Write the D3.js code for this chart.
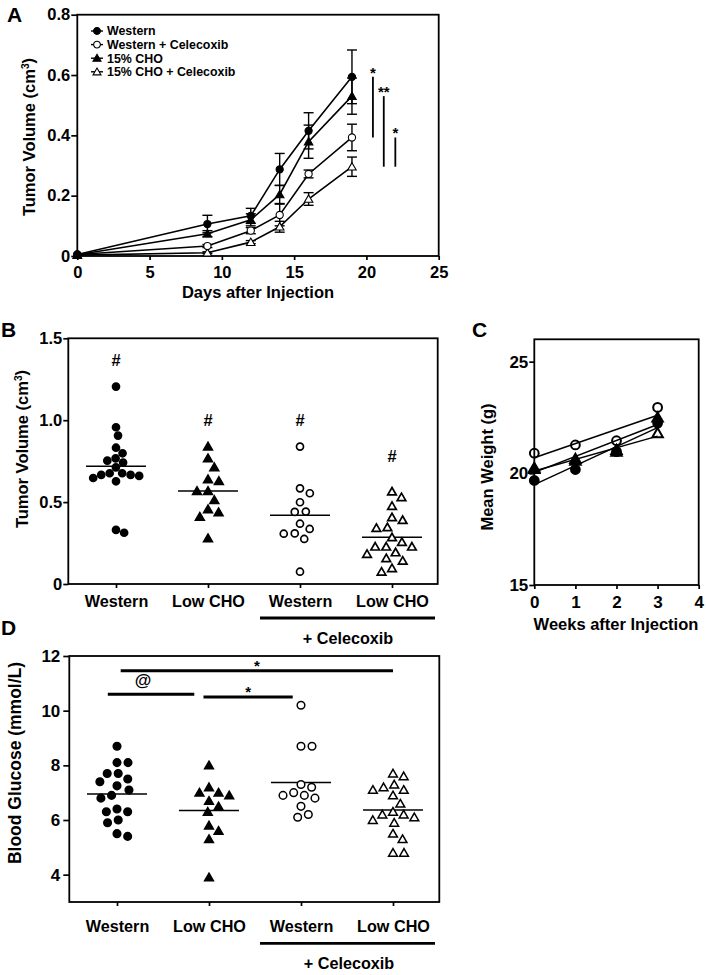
<!DOCTYPE html>
<html>
<head>
<meta charset="utf-8">
<script src="https://cdn.jsdelivr.net/npm/d3@7"></script>
<style>
  body { margin: 0; background: #fff; }
  svg text { font-family: "Liberation Sans", Arial, Helvetica, sans-serif; font-weight: bold; fill: #000; }
</style>
</head>
<body>
<svg id="fig"></svg>
<script>
// ---- Panel A: tumor growth curves ----
var days = [0, 9, 12, 14, 16, 19];
var seriesNamesA = ["Western", "Western + Celecoxib", "15% CHO", "15% CHO + Celecoxib"];
var westernA = [0.005, 0.106, 0.133, 0.287, 0.415, 0.594];
var westernErrA = [0, 0.029, 0.025, 0.053, 0.06, 0.089];
var westernCelA = [0.005, 0.033, 0.084, 0.136, 0.272, 0.393];
var westernCelErrA = [0, 0.005, 0.01, 0.036, 0.013, 0.044];
var choA = [0.004, 0.074, 0.12, 0.204, 0.379, 0.53];
var choErrA = [0, 0.01, 0.02, 0.03, 0.055, 0.06];
var choCelA = [0.003, 0.011, 0.046, 0.097, 0.189, 0.296];
var choCelErrA = [0, 0.003, 0.005, 0.018, 0.021, 0.032];
var sigA = [{day: 20.45, a: 0, b: 1, label: "*"}, {day: 21.2, a: 2, b: 3, label: "**"}, {day: 22.0, a: 1, b: 3, label: "*"}];

// ---- Panel B: final tumor volume ----
var groupLabels = ["Western", "Low CHO", "Western", "Low CHO"];
var tumorWestern = [1.205, 0.957, 0.906, 0.832, 0.798, 0.767, 0.753, 0.741, 0.712, 0.676, 0.676, 0.666, 0.666, 0.66, 0.647, 0.627, 0.33, 0.313];
var tumorLowCho = [0.839, 0.767, 0.712, 0.639, 0.629, 0.568, 0.568, 0.513, 0.456, 0.438, 0.411, 0.279];
var tumorWesternCel = [0.839, 0.584, 0.554, 0.499, 0.442, 0.44, 0.368, 0.336, 0.309, 0.307, 0.275, 0.075];
var tumorLowChoCel = [0.564, 0.53, 0.476, 0.407, 0.39, 0.346, 0.342, 0.285, 0.256, 0.228, 0.228, 0.228, 0.193, 0.183, 0.157, 0.142, 0.096, 0.075];
var tumorHash = [1.37, 1.0, 1.0, 0.78];

// ---- Panel C: body weight ----
var weeks = [0, 1, 2, 3];
var weightWestern = [19.68, 20.17, 20.97, 22.25];
var weightWesternCel = [20.9, 21.27, 21.46, 22.95];
var weightCho = [20.25, 20.65, 21.05, 22.5];
var weightChoCel = [20.2, 20.57, 20.97, 21.8];

// ---- Panel D: blood glucose ----
var glucoseWestern = [8.7, 8.1, 8.1, 7.7, 7.7, 7.5, 7.4, 7.25, 7.1, 6.9, 6.8, 6.4, 6.3, 6.3, 6.0, 5.9, 5.5, 5.4];
var glucoseLowCho = [8.0, 7.2, 7.0, 7.0, 6.9, 6.7, 6.5, 6.3, 5.8, 5.6, 5.3, 3.9];
var glucoseWesternCel = [10.2, 8.7, 8.7, 7.3, 7.2, 7.0, 6.9, 6.9, 6.8, 6.5, 6.2, 6.1];
var glucoseLowChoCel = [7.7, 7.6, 7.3, 7.2, 7.1, 7.1, 6.9, 6.6, 6.3, 6.2, 6.2, 6.1, 6.0, 5.9, 5.5, 5.3, 4.8, 4.8];
var sigD = [{from: 0.04, to: 3.0, y: 11.46, label: "*"}, {from: -0.1, to: 0.84, y: 10.6, label: "@"}, {from: 0.94, to: 1.91, y: 10.5, label: "*"}];

// marker style per series: Western, Western+Cel, CHO, CHO+Cel
var shapes = ["circle", "circle", "triangle", "triangle"];
var filled = [true, false, true, false];
// column order in B and D: Western, Low CHO, Western+Cel, Low CHO+Cel
var columnStyle = [0, 2, 1, 3];

var width = 706, height = 975;
var svg = d3.select('#fig').attr('width', width).attr('height', height);

function fmt(d) { return d === 0 ? "0" : d3.format(".1f")(d); }

function styleAxis(g, size) {
  g.attr('font-family', null).attr('font-size', size).attr('font-weight', 'bold');
  g.select('.domain').remove();
  g.selectAll('line').attr('stroke', '#000').attr('stroke-width', 1.7);
  g.selectAll('text').attr('fill', '#000');
}

var triangle = {
  draw: function(ctx, size) {
    var s = Math.sqrt(size), h = s * Math.sqrt(3) / 2;
    ctx.moveTo(0, -h * 0.55);
    ctx.lineTo(s / 2, h * 0.45);
    ctx.lineTo(-s / 2, h * 0.45);
    ctx.closePath();
  }
};

function symbolPath(shape, size) {
  if (shape === 'circle') return d3.symbol().type(d3.symbolCircle).size(Math.PI * size * size)();
  return d3.symbol().type(triangle).size(size * size)();
}

function box(g, x0, x1, y0, y1) {
  g.append('rect')
    .attr('x', x0).attr('y', y0)
    .attr('width', x1 - x0).attr('height', y1 - y0)
    .attr('fill', 'none').attr('stroke', '#000').attr('stroke-width', 1.8);
}

function supTitle(sel, main) {
  sel.append('tspan').text(main);
  sel.append('tspan').attr('font-size', '0.62em').attr('dy', '-0.55em').text('3');
  sel.append('tspan').attr('dy', '0.34em').text(')');
}

function panelLetter(txt, x, y) {
  svg.append('text').attr('x', x).attr('y', y).attr('font-size', 21).text(txt);
}

// simple beeswarm: spread points sideways so they don't overlap
function swarm(values, y, d) {
  var order = d3.range(values.length).sort(function(a, b) { return values[b] - values[a]; });
  var placed = [], xs = [];
  order.forEach(function(i) {
    var py = y(values[i]);
    var cands = [0];
    placed.forEach(function(p) {
      var dy = Math.abs(p.y - py);
      if (dy < d) {
        var dx = Math.sqrt(d * d - dy * dy);
        cands.push(p.x + dx, p.x - dx);
      }
    });
    cands.sort(function(a, b) { return Math.abs(a) - Math.abs(b); });
    var x = cands.find(function(c) {
      return placed.every(function(p) { return (p.x - c) * (p.x - c) + (p.y - py) * (p.y - py) >= d * d - 0.01; });
    });
    xs[i] = x;
    placed.push({x: x, y: py});
  });
  return xs;
}

// =================== Panel A ===================
var xA = d3.scaleLinear().domain([0, 25]).range([77.3, 438.7]);
var yA = d3.scaleLinear().domain([0, 0.8]).range([256, 14.7]);
var gA = svg.append('g');

gA.append('g').attr('transform', 'translate(0,' + yA(0) + ')')
  .call(d3.axisBottom(xA).tickValues([0, 5, 10, 15, 20, 25]).tickSize(4).tickPadding(6).tickSizeOuter(0))
  .call(styleAxis, 16.5);
gA.append('g').attr('transform', 'translate(' + xA(0) + ',0)')
  .call(d3.axisLeft(yA).tickValues([0, 0.2, 0.4, 0.6, 0.8]).tickFormat(fmt).tickSize(6).tickPadding(1).tickSizeOuter(0))
  .call(styleAxis, 16.5);
box(gA, xA(0), xA(25), yA(0.8), yA(0));

var seriesA = [
  {values: westernA, errs: westernErrA},
  {values: westernCelA, errs: westernCelErrA},
  {values: choA, errs: choErrA},
  {values: choCelA, errs: choCelErrA}
];
seriesA.forEach(function(s, i) { s.shape = shapes[i]; s.filled = filled[i]; s.name = seriesNamesA[i]; });

var lineA = d3.line().x(function(d, i) { return xA(days[i]); }).y(function(d) { return yA(d); });
gA.selectAll('path.series').data(seriesA).enter().append('path')
  .attr('class', 'series')
  .attr('d', function(s) { return lineA(s.values); })
  .attr('fill', 'none').attr('stroke', '#000').attr('stroke-width', 1.6);

seriesA.forEach(function(s) {
  var eb = gA.append('g');
  s.values.forEach(function(v, i) {
    var e = s.errs[i];
    if (!e) return;
    var x = xA(days[i]);
    eb.append('line').attr('x1', x).attr('x2', x).attr('y1', yA(v - e)).attr('y2', yA(v + e));
    [v - e, v + e].forEach(function(c) {
      eb.append('line').attr('x1', x - 5).attr('x2', x + 5).attr('y1', yA(c)).attr('y2', yA(c));
    });
  });
  eb.selectAll('line').attr('stroke', '#000').attr('stroke-width', 1.4);
});

seriesA.slice().reverse().forEach(function(s) {
  gA.selectAll(null).data(s.values).enter().append('path')
    .attr('transform', function(d, i) { return 'translate(' + xA(days[i]) + ',' + yA(d) + ')'; })
    .attr('d', symbolPath(s.shape, s.shape === 'circle' ? 3.6 : 8.5))
    .attr('fill', s.filled ? '#000' : '#fff')
    .attr('stroke', '#000').attr('stroke-width', 1.1);
});

// legend
var legA = gA.append('g');
seriesA.forEach(function(s, i) {
  var y = 31 + i * 13.6;
  legA.append('line').attr('x1', 91).attr('x2', 103).attr('y1', y).attr('y2', y)
    .attr('stroke', '#000').attr('stroke-width', 1.4);
  legA.append('path').attr('transform', 'translate(97,' + y + ')')
    .attr('d', symbolPath(s.shape, s.shape === 'circle' ? 3.4 : 8))
    .attr('fill', s.filled ? '#000' : '#fff').attr('stroke', '#000').attr('stroke-width', 1.1);
  legA.append('text').attr('x', 107).attr('y', y).attr('dy', '0.36em')
    .attr('font-size', 12.4).text(s.name);
});

// significance bars at day 19
sigA.forEach(function(b) {
  var top = seriesA[b.a].values[5], bot = seriesA[b.b].values[5];
  gA.append('line').attr('x1', xA(b.day)).attr('x2', xA(b.day)).attr('y1', yA(top)).attr('y2', yA(bot))
    .attr('stroke', '#000').attr('stroke-width', 1.8);
  gA.append('text').attr('x', xA(b.day)).attr('y', yA(top) + 1).attr('text-anchor', 'middle')
    .attr('font-size', 15).text(b.label);
});

gA.append('text').attr('x', 258).attr('y', 298).attr('text-anchor', 'middle')
  .attr('font-size', 16.5).text('Days after Injection');
gA.append('text').attr('transform', 'rotate(-90)').attr('x', -137).attr('y', 34.5)
  .attr('text-anchor', 'middle').attr('font-size', 16.5)
  .call(supTitle, 'Tumor Volume (cm');
panelLetter('A', 7, 22);

// =================== Panel B ===================
var xB = d3.scalePoint().domain(d3.range(4)).range([70, 438]).padding(0.5);
var yB = d3.scaleLinear().domain([0, 1.5]).range([584, 338.3]);
var gB = svg.append('g');

gB.append('g').attr('transform', 'translate(0,' + yB(0) + ')')
  .call(d3.axisBottom(xB).tickFormat(function(i) { return groupLabels[i]; }).tickSize(4).tickPadding(7).tickSizeOuter(0))
  .call(styleAxis, 16.2);
gB.append('g').attr('transform', 'translate(68.3,0)')
  .call(d3.axisLeft(yB).tickValues([0, 0.5, 1.0, 1.5]).tickFormat(fmt).tickSize(5).tickPadding(1).tickSizeOuter(0))
  .call(styleAxis, 16.5);
box(gB, 68.3, 437.7, yB(1.5), yB(0));

// spread: horizontal spacing between neighbouring dots, one per column
function dotColumns(g, x, y, groups, spread, circR, triS, sw) {
  groups.forEach(function(vals, gi) {
    var st = columnStyle[gi];
    var offs = swarm(vals, y, spread[gi]);
    var cx = x(gi), m = d3.mean(vals);
    g.append('line').attr('x1', cx - 30).attr('x2', cx + 30)
      .attr('y1', y(m)).attr('y2', y(m))
      .attr('stroke', '#000').attr('stroke-width', 1.5);
    g.selectAll(null).data(vals).enter().append('path')
      .attr('transform', function(v, i) { return 'translate(' + (cx + offs[i]) + ',' + y(v) + ')'; })
      .attr('d', symbolPath(shapes[st], shapes[st] === 'circle' ? circR : triS))
      .attr('fill', filled[st] ? '#000' : '#fff')
      .attr('stroke', '#000').attr('stroke-width', sw);
  });
}

dotColumns(gB, xB, yB, [tumorWestern, tumorLowCho, tumorWesternCel, tumorLowChoCel], [8.6, 11, 11, 11], 3.5, 8.6, 1.7);

gB.selectAll('text.hash').data(tumorHash).enter().append('text')
  .attr('class', 'hash')
  .attr('x', function(d, i) { return xB(i); }).attr('y', function(d) { return yB(d); })
  .attr('dy', '0.36em').attr('text-anchor', 'middle').attr('font-size', 16.5).text('#');

gB.append('line').attr('x1', 260).attr('x2', 435).attr('y1', 618).attr('y2', 618)
  .attr('stroke', '#000').attr('stroke-width', 2.8);
gB.append('text').attr('x', 348).attr('y', 644).attr('text-anchor', 'middle')
  .attr('font-size', 16.2).text('+ Celecoxib');
gB.append('text').attr('transform', 'rotate(-90)').attr('x', -449).attr('y', 27.5)
  .attr('text-anchor', 'middle').attr('font-size', 16.5)
  .call(supTitle, 'Tumor Volume (cm');
panelLetter('B', 1, 337);

// =================== Panel C ===================
var xC = d3.scaleLinear().domain([0, 4]).range([534.3, 698.7]);
var yC = d3.scaleLinear().domain([15, 26]).range([585, 339.3]);
var gC = svg.append('g');

gC.append('g').attr('transform', 'translate(0,' + yC(15) + ')')
  .call(d3.axisBottom(xC).tickValues([0, 1, 2, 3, 4]).tickFormat(d3.format('d')).tickSize(4).tickPadding(7).tickSizeOuter(0))
  .call(styleAxis, 17);
gC.append('g').attr('transform', 'translate(' + xC(0) + ',0)')
  .call(d3.axisLeft(yC).tickValues([15, 20, 25]).tickFormat(d3.format('d')).tickSize(5).tickPadding(1).tickSizeOuter(0))
  .call(styleAxis, 17);
box(gC, xC(0), xC(4), yC(26), yC(15));

var seriesC = [weightWestern, weightWesternCel, weightCho, weightChoCel];
// least-squares fit lines across weeks
seriesC.forEach(function(vals) {
  var mx = d3.mean(weeks), my = d3.mean(vals);
  var sxy = d3.sum(weeks, function(w, i) { return (w - mx) * (vals[i] - my); });
  var sxx = d3.sum(weeks, function(w) { return (w - mx) * (w - mx); });
  var slope = sxy / sxx, icpt = my - slope * mx;
  gC.append('line')
    .attr('x1', xC(weeks[0])).attr('y1', yC(icpt + slope * weeks[0]))
    .attr('x2', xC(weeks[3])).attr('y2', yC(icpt + slope * weeks[3]))
    .attr('stroke', '#000').attr('stroke-width', 1.5);
});
[0, 2, 3, 1].forEach(function(si) {
  gC.selectAll(null).data(seriesC[si]).enter().append('path')
    .attr('transform', function(d, i) { return 'translate(' + xC(weeks[i]) + ',' + yC(d) + ')'; })
    .attr('d', symbolPath(shapes[si], shapes[si] === 'circle' ? 4.4 : 10.5))
    .attr('fill', filled[si] ? '#000' : 'none')
    .attr('stroke', '#000').attr('stroke-width', 2);
});

gC.append('text').attr('x', 616).attr('y', 630).attr('text-anchor', 'middle')
  .attr('font-size', 16.5).text('Weeks after Injection');
gC.append('text').attr('transform', 'rotate(-90)').attr('x', -467).attr('y', 493)
  .attr('text-anchor', 'middle').attr('font-size', 16.5).text('Mean Weight (g)');
panelLetter('C', 472, 337);

// =================== Panel D ===================
var xD = d3.scalePoint().domain(d3.range(4)).range([71, 439]).padding(0.5);
var yD = d3.scaleLinear().domain([3, 12]).range([902, 656]);
var gD = svg.append('g');

gD.append('g').attr('transform', 'translate(0,' + yD(3) + ')')
  .call(d3.axisBottom(xD).tickFormat(function(i) { return groupLabels[i]; }).tickSize(4).tickPadding(14).tickSizeOuter(0))
  .call(styleAxis, 16.2);
gD.append('g').attr('transform', 'translate(69.3,0)')
  .call(d3.axisLeft(yD).tickValues([4, 6, 8, 10, 12]).tickSize(6).tickPadding(3).tickSizeOuter(0))
  .call(styleAxis, 17);
box(gD, 69.3, 439.3, yD(12), yD(3));

dotColumns(gD, xD, yD, [glucoseWestern, glucoseLowCho, glucoseWesternCel, glucoseLowChoCel], [11, 11, 11, 11], 3.8, 8.8, 1.5);

var stepD = xD.step();
sigD.forEach(function(b) {
  var x1 = xD(0) + b.from * stepD, x2 = xD(0) + b.to * stepD;
  gD.append('line').attr('x1', x1).attr('x2', x2).attr('y1', yD(b.y)).attr('y2', yD(b.y))
    .attr('stroke', '#000').attr('stroke-width', 2.8);
  var isAt = b.label === '@';
  gD.append('text').attr('x', (x1 + x2) / 2 - (isAt ? 8 : 0)).attr('y', yD(b.y) - (isAt ? 8 : 0))
    .attr('text-anchor', 'middle').attr('font-size', isAt ? 17 : 15).text(b.label);
});

gD.append('line').attr('x1', 260).attr('x2', 435).attr('y1', 943.3).attr('y2', 943.3)
  .attr('stroke', '#000').attr('stroke-width', 2.8);
gD.append('text').attr('x', 349).attr('y', 968.5).attr('text-anchor', 'middle')
  .attr('font-size', 16.2).text('+ Celecoxib');
gD.append('text').attr('transform', 'rotate(-90)').attr('x', -763).attr('y', 21)
  .attr('text-anchor', 'middle').attr('font-size', 17.5).text('Blood Glucose (mmol/L)');
panelLetter('D', 1, 635);
</script>
</body>
</html>
